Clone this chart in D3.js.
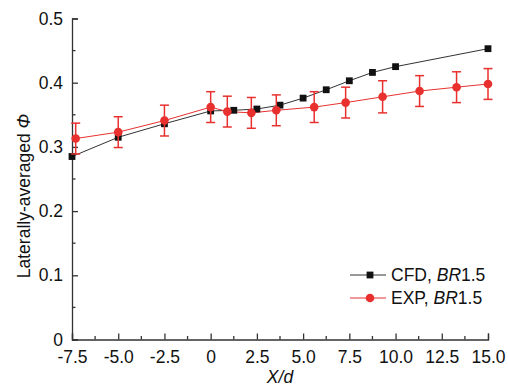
<!DOCTYPE html>
<html>
<head>
<meta charset="utf-8">
<script src="https://cdn.jsdelivr.net/npm/d3@7"></script>
<style>
  html, body { margin: 0; padding: 0; background: #fff; }
  svg { display: block; font-family: "Liberation Sans", Arial, sans-serif; }
</style>
</head>
<body>
<div id="chart"></div>
<script>
// CFD series (black squares)
const cfdX = [-7.5, -5.0, -2.5, 0, 1.25, 2.5, 3.75, 5.0, 6.25, 7.5, 8.75, 10.0, 15.0];
const cfdY = [0.285, 0.315, 0.336, 0.356, 0.357, 0.359, 0.365, 0.376, 0.389, 0.403, 0.416, 0.425, 0.453];

// EXP series (red circles) with error bars
const expX = [-7.3, -5.0, -2.5, 0, 0.9, 2.2, 3.55, 5.6, 7.3, 9.3, 11.3, 13.3, 15.0];
const expY = [0.313, 0.323, 0.341, 0.362, 0.355, 0.353, 0.357, 0.362, 0.369, 0.378, 0.387, 0.393, 0.398];
const expErr = [0.024, 0.024, 0.024, 0.024, 0.024, 0.024, 0.024, 0.024, 0.024, 0.025, 0.024, 0.024, 0.024];

const xTicks = [-7.5, -5.0, -2.5, 0, 2.5, 5.0, 7.5, 10.0, 12.5, 15.0];
const yTicks = [0, 0.1, 0.2, 0.3, 0.4, 0.5];
const legendLabels = ["CFD, ", "EXP, "];

const width = 508, height = 387;
const margin = { left: 72, right: 20, top: 18.5, bottom: 47.5 };
const fs = 17.5;

const svg = d3.select('#chart').append('svg')
  .attr('width', width)
  .attr('height', height);

const x = d3.scaleLinear().domain([-7.5, 15]).range([margin.left, width - margin.right]);
const y = d3.scaleLinear().domain([0, 0.5]).range([height - margin.bottom, margin.top]);

const red = '#e8312f';
const black = '#111';
const axisColor = '#333';
const fmt = d => d === 0 ? '0' : d3.format('.1f')(d).replace('−', '-');

// axes
const xAxis = svg.append('g')
  .attr('transform', `translate(0,${y(0)})`)
  .call(d3.axisBottom(x).tickValues(xTicks).tickSize(-6).tickPadding(10).tickFormat(fmt));
xAxis.selectAll('.tick line').attr('stroke', axisColor).attr('stroke-width', 1.3);
xAxis.select('.domain').attr('stroke', axisColor).attr('stroke-width', 1.3);
xAxis.selectAll('text').attr('font-size', fs).attr('fill', '#111').attr('y', 0).attr('dy', 23.5);

const xMinor = d3.range(-6.25, 15, 2.5);
svg.append('g').selectAll('line').data(xMinor).join('line')
  .attr('x1', d => x(d)).attr('x2', d => x(d))
  .attr('y1', y(0)).attr('y2', y(0) - 3.5)
  .attr('stroke', axisColor).attr('stroke-width', 1.3);

const yAxis = svg.append('g')
  .attr('transform', `translate(${x(-7.5)},0)`)
  .call(d3.axisLeft(y).tickValues(yTicks).tickSize(-6).tickPadding(9).tickFormat(fmt));
yAxis.selectAll('.tick line').attr('stroke', axisColor).attr('stroke-width', 1.3);
yAxis.select('.domain').attr('stroke', axisColor).attr('stroke-width', 1.3);
yAxis.selectAll('text').attr('font-size', fs).attr('fill', '#111');

const yMinor = d3.range(0.05, 0.5, 0.1);
svg.append('g').selectAll('line').data(yMinor).join('line')
  .attr('x1', x(-7.5)).attr('x2', x(-7.5) + 3.5)
  .attr('y1', d => y(d)).attr('y2', d => y(d))
  .attr('stroke', axisColor).attr('stroke-width', 1.3);

// axis titles
svg.append('text')
  .attr('x', 280).attr('y', 383)
  .attr('text-anchor', 'middle')
  .attr('font-size', fs).attr('font-style', 'italic').attr('fill', '#111')
  .text('X/d');

const yt = svg.append('text')
  .attr('transform', 'translate(30,196) rotate(-90)')
  .attr('text-anchor', 'middle')
  .attr('font-size', fs).attr('fill', '#111');
yt.append('tspan').text('Laterally-averaged ');
yt.append('tspan').attr('font-style', 'italic').text('Φ');

// CFD line + squares
const cfd = cfdX.map((d, i) => [d, cfdY[i]]);
const exp = expX.map((d, i) => [d, expY[i], expErr[i]]);
const line = d3.line().x(d => x(d[0])).y(d => y(d[1]));

svg.append('path').datum(cfd)
  .attr('d', line).attr('fill', 'none')
  .attr('stroke', '#333').attr('stroke-width', 1);

svg.append('path').datum(exp)
  .attr('d', line).attr('fill', 'none')
  .attr('stroke', red).attr('stroke-width', 1);

svg.append('g').selectAll('rect').data(cfd).join('rect')
  .attr('x', d => x(d[0]) - 3.4).attr('y', d => y(d[1]) - 3.4)
  .attr('width', 6.8).attr('height', 6.8).attr('fill', black);

// EXP error bars + circles
const eb = svg.append('g').attr('stroke', red).attr('stroke-width', 1.5);
exp.forEach(d => {
  const cx = x(d[0]);
  eb.append('line').attr('x1', cx).attr('x2', cx).attr('y1', y(d[1] - d[2])).attr('y2', y(d[1] + d[2]));
  eb.append('line').attr('x1', cx - 4.5).attr('x2', cx + 4.5).attr('y1', y(d[1] - d[2])).attr('y2', y(d[1] - d[2]));
  eb.append('line').attr('x1', cx - 4.5).attr('x2', cx + 4.5).attr('y1', y(d[1] + d[2])).attr('y2', y(d[1] + d[2]));
});

svg.append('g').selectAll('circle').data(exp).join('circle')
  .attr('cx', d => x(d[0])).attr('cy', d => y(d[1]))
  .attr('r', 4.3).attr('fill', red);

// legend
const lg = svg.append('g').attr('transform', 'translate(350,275)');
legendLabels.forEach((lab, i) => {
  const g = lg.append('g').attr('transform', `translate(0,${i * 23})`);
  g.append('line').attr('x1', 0).attr('x2', 36).attr('y1', 0).attr('y2', 0)
    .attr('stroke', i === 0 ? '#333' : red).attr('stroke-width', 1);
  if (i === 0) {
    g.append('rect').attr('x', 16.6).attr('y', -3.4).attr('width', 6.8).attr('height', 6.8).attr('fill', black);
  } else {
    g.append('circle').attr('cx', 20).attr('cy', 0).attr('r', 4.3).attr('fill', red);
  }
  const t = g.append('text').attr('x', 41).attr('y', 0).attr('dy', '0.35em')
    .attr('font-size', fs).attr('fill', '#111');
  t.append('tspan').text(lab);
  t.append('tspan').attr('font-style', 'italic').text('BR');
  t.append('tspan').text('1.5');
});
</script>
</body>
</html>
